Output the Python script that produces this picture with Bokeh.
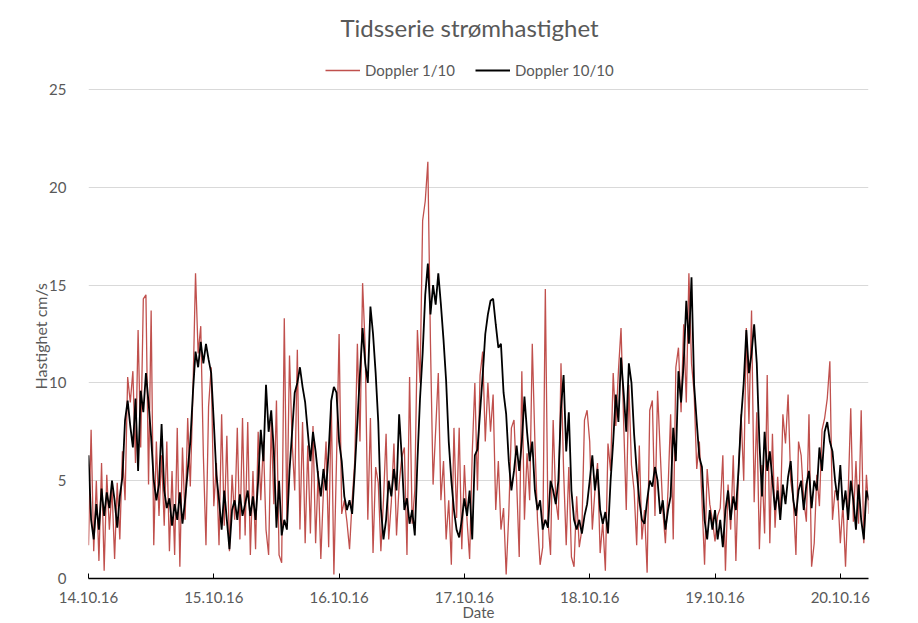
import pandas as pd
from bokeh.plotting import figure
from bokeh.models import (Legend, LegendItem, DatetimeTickFormatter, DaysTicker,
                          Range1d, FixedTicker, Title, Label)
from bokeh.embed import file_html
from bokeh.resources import INLINE

# ---------------- data (30-min steps from 14.10.16 00:00) -------------
start_time = "2016-10-14 00:00"
step = "30min"

doppler_10_10 = [
    6.3, 3.0, 2.0, 3.8, 2.5, 4.6, 3.2, 4.4, 3.6, 5.0,
    4.0, 2.6, 4.2, 5.2, 8.1, 9.1, 7.8, 6.7, 9.2, 5.5,
    9.6, 8.5, 10.5, 9.0, 7.2, 5.0, 4.0, 4.8, 7.9, 4.5,
    3.6, 4.1, 2.7, 3.8, 3.0, 4.4, 2.8, 4.0, 5.5, 7.0,
    9.5, 11.6, 10.8, 12.1, 11.0, 12.0, 11.2, 10.5, 8.0, 5.3,
    4.0, 2.5, 4.5, 3.0, 1.5, 3.5, 4.0, 3.0, 4.3, 3.2,
    3.8, 4.5, 3.2, 4.2, 3.0, 5.0, 7.6, 6.0, 9.9, 7.5,
    8.6, 6.5, 2.6, 5.0, 2.2, 3.0, 2.5, 5.5, 7.5, 9.5,
    10.0, 10.8, 9.8, 9.0, 7.5, 6.0, 7.5, 6.5, 5.2, 4.2,
    5.6, 4.5, 6.5, 9.1, 9.8, 9.5, 7.0, 6.0, 4.2, 3.5,
    4.0, 3.3, 5.5, 8.0, 10.5, 12.8, 11.0, 10.0, 13.9, 12.5,
    10.5, 8.0, 3.6, 2.0, 3.0, 5.0, 4.2, 5.6, 4.5, 8.4,
    6.2, 3.5, 4.1, 2.8, 3.5, 2.2, 6.0, 9.2, 11.5, 14.5,
    16.1, 13.5, 15.0, 14.0, 15.6, 14.0, 12.2, 10.1, 7.0, 5.0,
    3.5, 2.5, 2.1, 3.0, 4.1, 3.2, 4.5, 2.0, 6.3, 6.6,
    8.5, 10.4, 12.5, 13.5, 14.2, 14.3, 13.0, 11.8, 12.0, 9.5,
    8.4, 6.0, 4.5, 5.5, 6.8, 5.5, 7.0, 9.3, 7.5, 6.0,
    7.0, 4.5, 3.5, 4.0, 2.5, 3.0, 2.6, 5.0, 4.5, 3.8,
    5.0, 8.7, 10.4, 6.5, 8.5, 4.5, 3.0, 2.5, 3.0, 2.3,
    3.2, 3.8, 5.0, 6.3, 4.5, 5.6, 3.5, 2.8, 3.4, 2.3,
    5.0, 7.0, 9.4, 8.0, 11.3, 9.5, 7.5, 11.0, 10.0, 7.4,
    5.5, 4.0, 3.0, 2.8, 4.0, 5.0, 4.7, 5.7, 5.0, 3.3,
    4.0, 2.5, 3.5, 4.2, 7.7, 6.0, 10.6, 9.0, 11.0, 14.2,
    12.0, 15.4, 9.9, 8.0, 6.2, 5.7, 3.0, 2.0, 3.5, 2.5,
    3.5, 2.0, 3.0, 1.6, 3.5, 4.5, 3.0, 4.2, 3.5, 5.5,
    8.2, 10.0, 12.7, 10.5, 11.5, 13.0, 11.0, 7.0, 4.2, 7.5,
    5.5, 6.5, 5.0, 3.5, 4.5, 3.0, 4.8, 3.8, 5.2, 6.0,
    4.0, 3.2, 4.5, 5.0, 3.5, 4.8, 5.5, 3.6, 5.0, 4.5,
    6.7, 5.5, 7.5, 8.0, 7.0, 6.5, 5.0, 4.0, 5.8, 3.5,
    4.5, 3.0, 5.0, 4.0, 2.5, 4.8, 3.0, 2.0, 4.5, 4.0,
]

doppler_1_10 = [
    1.7, 7.6, 1.4, 5.0, 0.9, 5.9, 0.4, 5.3, 2.5, 4.6,
    1.0, 4.9, 2.0, 6.5, 4.0, 10.3, 9.0, 10.6, 5.9, 12.7,
    6.7, 14.3, 14.5, 4.8, 13.7, 1.7, 7.0, 3.2, 6.3, 2.7,
    7.0, 1.4, 5.5, 1.2, 7.7, 0.6, 6.7, 3.0, 8.2, 4.7,
    9.5, 15.6, 11.5, 12.9, 6.3, 1.7, 8.8, 10.8, 3.7, 5.9,
    1.7, 8.4, 2.7, 7.3, 1.4, 5.3, 3.0, 7.7, 2.0, 8.2,
    2.2, 8.0, 1.2, 5.5, 1.5, 7.5, 4.0, 7.0, 2.5, 1.2,
    8.0, 3.8, 9.1, 1.2, 0.8, 13.3, 3.0, 11.4, 7.0, 4.5,
    11.7, 2.5, 8.0, 1.8, 6.8, 2.3, 7.8, 1.8, 5.5, 1.0,
    4.5, 7.0, 1.6, 9.1, 0.2, 6.0, 12.5, 3.3, 4.0, 2.9,
    1.5, 4.0, 6.0, 12.0, 7.0, 15.1, 11.8, 3.0, 8.2, 1.3,
    5.7, 4.9, 1.4, 4.0, 7.4, 2.0, 3.9, 6.9, 2.2, 4.8,
    6.2, 6.7, 1.2, 10.3, 2.8, 4.5, 12.7, 10.0, 18.3, 19.3,
    21.3, 12.0, 4.8, 7.6, 10.5, 4.0, 6.0, 2.0, 4.0, 0.7,
    7.7, 3.1, 7.7, 1.5, 5.8, 3.0, 1.0, 6.4, 10.0, 4.5,
    10.4, 11.6, 7.0, 10.0, 7.5, 9.4, 3.5, 6.0, 2.5, 3.6,
    0.2, 3.3, 7.7, 8.1, 5.0, 1.1, 10.6, 3.0, 6.4, 4.0,
    12.0, 7.0, 3.0, 0.7, 1.6, 14.8, 3.0, 1.2, 8.1, 4.0,
    3.0, 11.0, 5.5, 1.7, 5.7, 1.1, 0.6, 4.2, 1.6, 2.5,
    8.1, 8.6, 7.0, 2.5, 4.5, 5.9, 1.3, 2.9, 0.4, 6.9,
    5.5, 10.5, 7.8, 10.6, 12.8, 8.0, 3.5, 9.9, 5.8, 4.5,
    1.7, 6.8, 2.0, 3.5, 0.3, 8.6, 9.1, 3.2, 9.6, 6.5,
    3.5, 1.8, 4.5, 8.4, 2.0, 10.8, 11.8, 8.5, 13.0, 9.0,
    15.6, 11.0, 9.5, 5.6, 7.0, 4.0, 0.7, 5.6, 3.8, 3.0,
    1.9, 3.2, 3.6, 6.3, 0.4, 4.8, 2.5, 6.3, 0.9, 5.5,
    8.4, 5.0, 12.8, 7.9, 13.7, 3.9, 8.5, 1.5, 5.8, 2.3,
    10.4, 1.8, 7.4, 2.6, 5.2, 3.0, 8.4, 6.9, 9.4, 5.0,
    4.0, 1.2, 7.0, 6.3, 4.0, 2.9, 8.4, 0.6, 1.8, 5.3,
    3.7, 7.6, 8.2, 9.2, 11.1, 3.0, 4.5, 4.4, 1.8, 3.8,
    0.6, 4.3, 8.7, 2.9, 6.0, 2.8, 8.6, 1.8, 5.3, 3.3,
]

y_ticks = [0, 5, 10, 15, 20, 25]
series_names = ["Doppler 1/10", "Doppler 10/10"]
title_text = "Tidsserie strømhastighet"
x_label = "Date"
y_label = "Hastighet cm/s"

t_red = pd.date_range(start_time, periods=len(doppler_1_10), freq=step)
t_black = pd.date_range(start_time, periods=len(doppler_10_10), freq=step)

# ---------------- figure -----------------
FONT = "Lato"
GREY = "#595959"

x_start = pd.Timestamp(start_time)
x_end = x_start + pd.Timedelta(hours=149.4)
y_top = 29.55   # frame reaches the top of the canvas; the 0..25 axis sits below title + legend

p = figure(width=918, height=623, x_axis_type="datetime",
           x_range=Range1d(x_start, x_end), y_range=Range1d(0, y_top),
           output_backend="svg", toolbar_location=None, title=None,
           min_border_left=88, min_border_right=50, min_border_top=0,
           min_border_bottom=45)

p.outline_line_color = None
p.background_fill_color = "white"
p.border_fill_color = "white"

r_red = p.line(t_red, doppler_1_10, line_color="#C0504D", line_width=1.3)
r_black = p.line(t_black, doppler_10_10, line_color="#000000", line_width=1.8)

# chart title, placed in the empty band above the 25 line
title_label = Label(x=x_start + (x_end - x_start) * 0.4885, y=28.17,
                    text=title_text, text_align="center", text_baseline="middle",
                    text_font=FONT, text_font_size="24px", text_color=GREY)
p.add_layout(title_label)

legend = Legend(items=[LegendItem(label=series_names[0], renderers=[r_red]),
                       LegendItem(label=series_names[1], renderers=[r_black])],
                orientation="horizontal", location=(237, 498),
                label_text_font=FONT, label_text_font_size="15px",
                label_text_color=GREY, border_line_color=None,
                background_fill_alpha=0, glyph_width=35, spacing=20,
                padding=0, margin=0, label_standoff=5)
p.add_layout(legend, "center")

# y axis (label drawn as a left-side title so it centres on the 0..25 span)
p.yaxis.ticker = FixedTicker(ticks=y_ticks)
p.yaxis.axis_line_color = None
p.yaxis.major_tick_line_color = None
p.yaxis.minor_tick_line_color = None
p.yaxis.major_label_text_font = FONT
p.yaxis.major_label_text_font_size = "15px"
p.yaxis.major_label_text_color = GREY
p.yaxis.major_label_standoff = 16

ytitle = Title(text=y_label, align="left", offset=189, text_font=FONT,
               text_font_size="16px", text_font_style="normal",
               text_color=GREY, standoff=-7)
p.add_layout(ytitle, "left")

# x axis
p.xaxis.ticker = DaysTicker(days=list(range(1, 32)))
p.xaxis.formatter = DatetimeTickFormatter(days="%d.%m.%y", months="%d.%m.%y",
                                          hours="%d.%m.%y")
p.xaxis.axis_line_color = "#000000"
p.xaxis.axis_line_width = 1.5
p.xaxis.major_tick_line_color = "#000000"
p.xaxis.major_tick_in = 5
p.xaxis.major_tick_out = 0
p.xaxis.minor_tick_line_color = None
p.xaxis.major_label_text_font = FONT
p.xaxis.major_label_text_font_size = "15px"
p.xaxis.major_label_text_color = GREY
p.xaxis.major_label_standoff = 13
p.xaxis.axis_label = x_label
p.xaxis.axis_label_text_font = FONT
p.xaxis.axis_label_text_font_size = "15px"
p.xaxis.axis_label_text_font_style = "normal"
p.xaxis.axis_label_text_color = GREY
p.xaxis.axis_label_standoff = -3

p.ygrid.grid_line_color = "#D9D9D9"
p.xgrid.grid_line_color = None

open("out.html", "w").write(file_html(p, INLINE))
